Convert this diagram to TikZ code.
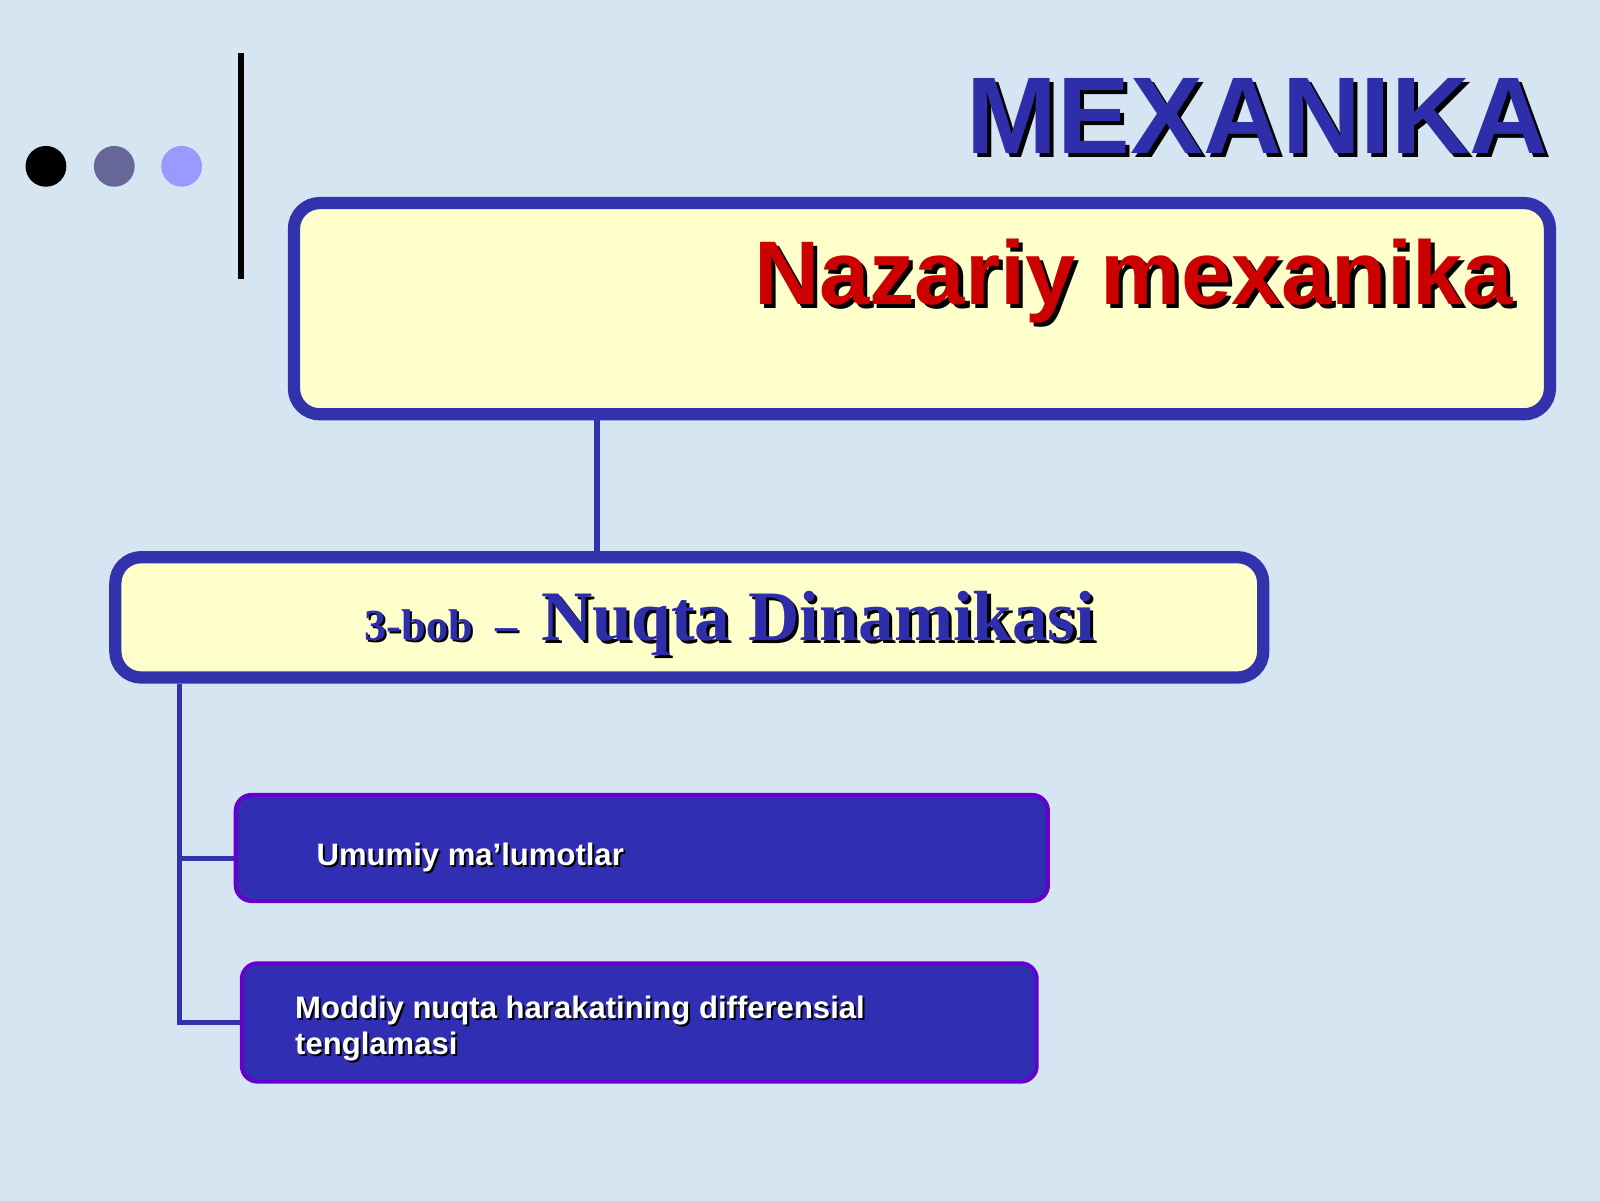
\documentclass[tikz,border=0pt]{standalone}
\usepackage{fontspec}
\setmainfont{Liberation Sans}
\newfontfamily\serifbold{Liberation Serif}
\definecolor{bgblue}{RGB}{214,229,242}
\definecolor{lineblue}{RGB}{50,50,172}
\definecolor{boxyellow}{RGB}{255,255,204}
\definecolor{darkbox}{RGB}{48,46,178}
\definecolor{purpleedge}{RGB}{102,0,204}
\definecolor{titleblue}{RGB}{46,46,170}
\definecolor{redtitle}{RGB}{204,0,0}
\definecolor{dotgray}{RGB}{102,102,153}
\definecolor{dotlilac}{RGB}{153,153,255}
\pgfdeclarelayer{back}
\pgfdeclarelayer{links}
\pgfsetlayers{back,links,main}
\tikzset{
  yellowbox/.style={draw=lineblue, line width=8.7pt, fill=boxyellow, rounded corners=18.4pt, inner sep=0pt},
  bluebox/.style={draw=purpleedge, line width=2.86pt, fill=darkbox, rounded corners=11.2pt, inner sep=0pt},
  link/.style={draw=lineblue, line width=3.7pt},
  dotnode/.style={circle, minimum size=1.02cm, inner sep=0pt},
  bigsans/.style={font=\bfseries\fontsize{77.6}{80}\selectfont, inner sep=0pt},
  midsans/.style={font=\bfseries\fontsize{64.3}{68}\selectfont, inner sep=0pt},
  smallsans/.style={font=\bfseries\fontsize{22.1}{25}\selectfont, inner sep=0pt},
  serifbig/.style={font=\serifbold\bfseries\fontsize{50.5}{54}\selectfont, inner sep=0pt},
  serifsmall/.style={font=\serifbold\bfseries\fontsize{31.6}{34}\selectfont, inner sep=0pt},
}
\begin{document}
\begin{tikzpicture}[x=0.0255102cm, y=-0.0255102cm]
\useasboundingbox (0,0) rectangle (1568,1176);
\begin{pgfonlayer}{back}
\fill[bgblue] (-10,-10) rectangle (1578,1186);
\end{pgfonlayer}

% dots and bar
\node[dotnode, fill=black] (d1) at (45,163) {};
\node[dotnode, fill=dotgray] (d2) at (112,163) {};
\node[dotnode, fill=dotlilac] (d3) at (178,163) {};
\coordinate (bartop) at (236,52);
\coordinate (barbot) at (236,273);
\draw[line width=4.4pt] (bartop) -- (barbot);

% title
\node[bigsans, text=black, anchor=base east] (t0s) at (1522,154) {MEXANIKA};
\node[bigsans, text=titleblue, anchor=base east] (t0) at (1518,150) {MEXANIKA};

% helper coordinates for connectors
\coordinate (c1) at (585,0);
\coordinate (c2) at (176,0);
\coordinate (j3) at (0,841);

% boxes (shapes only)
\node[yellowbox, minimum width=31.403cm, minimum height=5.281cm] (b1) at (903.5,302.5) {};
\node[yellowbox, minimum width=28.699cm, minimum height=3.010cm] (b2) at (675.5,605) {};
\node[bluebox, minimum width=20.306cm, minimum height=2.653cm] (b3) at (629,831) {};
\node[bluebox, minimum width=19.873cm, minimum height=2.959cm] (b4) at (626.5,1002) {};

% connectors beneath the boxes
\begin{pgfonlayer}{links}
\draw[link] (b1.south -| c1) -- (b2.north -| c1);
\draw[link] (b2.south -| c2) |- (b4.west);
\draw[link] (c2 |- j3) -- (b3.west |- j3);
\end{pgfonlayer}

% box texts
\node[midsans, text=black, anchor=base east] (t1s) at (1487,302) {Nazariy mexanika};
\node[midsans, text=redtitle, anchor=base east] (t1) at (1483,298) {Nazariy mexanika};

\node[serifsmall, text=black, anchor=base west] (t2as) at (359,630) {3-bob};
\node[serifsmall, text=titleblue, anchor=base west] (t2a) at (357,628) {3-bob};
\node[serifsmall, text=black, anchor=base west] (t2bs) at (487,630) {–};
\node[serifsmall, text=titleblue, anchor=base west] (t2b) at (485,628) {–};
\node[serifbig, text=black, anchor=base west] (t2cs) at (533,631) {Nuqta Dinamikasi};
\node[serifbig, text=titleblue, anchor=base west] (t2c) at (530,628) {Nuqta Dinamikasi};

\node[smallsans, text=black, anchor=base west] (t3s) at (312,850) {Umumiy ma’lumotlar};
\node[smallsans, text=white, anchor=base west] (t3) at (310,848) {Umumiy ma’lumotlar};

\node[smallsans, text=black, anchor=base west] (t4as) at (291,1000) {Moddiy nuqta harakatining differensial};
\node[smallsans, text=white, anchor=base west] (t4a) at (289,998) {Moddiy nuqta harakatining differensial};
\node[smallsans, text=black, anchor=base west] (t4bs) at (291,1035) {tenglamasi};
\node[smallsans, text=white, anchor=base west] (t4b) at (289,1033) {tenglamasi};
\end{tikzpicture}
\end{document}
